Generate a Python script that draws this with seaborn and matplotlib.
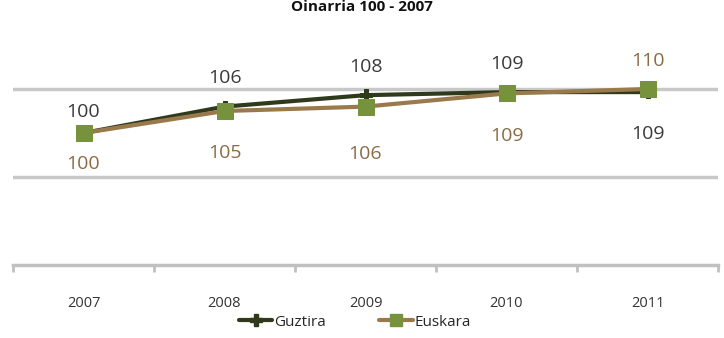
import matplotlib
matplotlib.use("Agg")
import matplotlib.pyplot as plt
import seaborn as sns
import pandas as pd
from matplotlib.lines import Line2D

years = ["2007", "2008", "2009", "2010", "2011"]
guztira = [100, 106, 108.6, 109.3, 109.3]
euskara = [100, 105, 106, 109, 110]
guztira_labels = ["100", "106", "108", "109", "109"]
euskara_labels = ["100", "105", "106", "109", "110"]
title = "Oinarria 100 - 2007"

sns.set_style("white")
plt.rcParams['font.family'] = ['Open Sans', 'DejaVu Sans']

df = pd.DataFrame({
    "year": list(range(len(years))) * 2,
    "value": guztira + euskara,
    "series": ["Guztira"] * len(years) + ["Euskara"] * len(years),
})

c_g = "#2f3a1c"
c_e = "#9a7a4c"
c_mark = "#76923c"

fig = plt.figure(figsize=(7.24, 3.38), dpi=100)
ax = fig.add_axes([13/724, 1 - 265/338, 705/724, 265/338 - 0.003])

ax.axhline(90, color="#c8c8c8", lw=2.5, zorder=0)
ax.axhline(110, color="#c8c8c8", lw=2.5, zorder=0)

sns.lineplot(data=df[df.series == "Guztira"], x="year", y="value", ax=ax,
             color=c_g, lw=3, marker="P", markersize=8, markerfacecolor=c_g,
             markeredgecolor=c_g, legend=False, zorder=3)
sns.lineplot(data=df[df.series == "Euskara"], x="year", y="value", ax=ax,
             color=c_e, lw=3, marker="s", markersize=11, markerfacecolor=c_mark,
             markeredgecolor=c_mark, legend=False, zorder=4)

ax.set_xlim(-0.5, len(years) - 0.5)
ax.set_ylim(70, 130)
ax.set_xticks(range(len(years)))
ax.set_xticklabels(years, fontsize=10.5, color="#333333")
ax.tick_params(axis="x", which="major", length=0, pad=22)
ax.set_xticks([i - 0.5 for i in range(len(years) + 1)], minor=True)
ax.tick_params(axis="x", which="minor", bottom=True, length=5, width=2,
               color="#c0c0c0", direction="out")
ax.set_yticks([])
ax.set_xlabel("")
ax.set_ylabel("")
for s in ["top", "right", "left"]:
    ax.spines[s].set_visible(False)
ax.spines["bottom"].set_color("#c0c0c0")
ax.spines["bottom"].set_linewidth(2.5)

# label offsets in points: positive = above, negative = below
g_off = [9, 14, 14, 14, -24]
e_off = [-16, -24, -28, -24, 14]
for i in range(len(years)):
    ax.annotate(guztira_labels[i], (i, guztira[i]), xytext=(0, g_off[i]),
                textcoords="offset points", ha="center", va="bottom" if g_off[i] > 0 else "top",
                fontsize=14, color="#3a3a3a")
    ax.annotate(euskara_labels[i], (i, euskara[i]), xytext=(0, e_off[i]),
                textcoords="offset points", ha="center", va="bottom" if e_off[i] > 0 else "top",
                fontsize=14, color="#8a6c44")

fig.text(0.5, 0.999, title, ha="center", va="top", fontsize=11, fontweight="bold", color="#111111")

handles = [
    Line2D([], [], color=c_g, lw=3, marker="P", markersize=8, markerfacecolor=c_g, markeredgecolor=c_g),
    Line2D([], [], color=c_e, lw=3, marker="s", markersize=8, markerfacecolor=c_mark, markeredgecolor=c_mark),
]
fig.legend(handles, ["Guztira", "Euskara"], loc="center", bbox_to_anchor=(0.49, 1 - 322/338),
           ncol=2, frameon=False, fontsize=11, handlelength=2.2, handletextpad=0.1,
           columnspacing=3.5)

fig.savefig("out.png", dpi=100)
